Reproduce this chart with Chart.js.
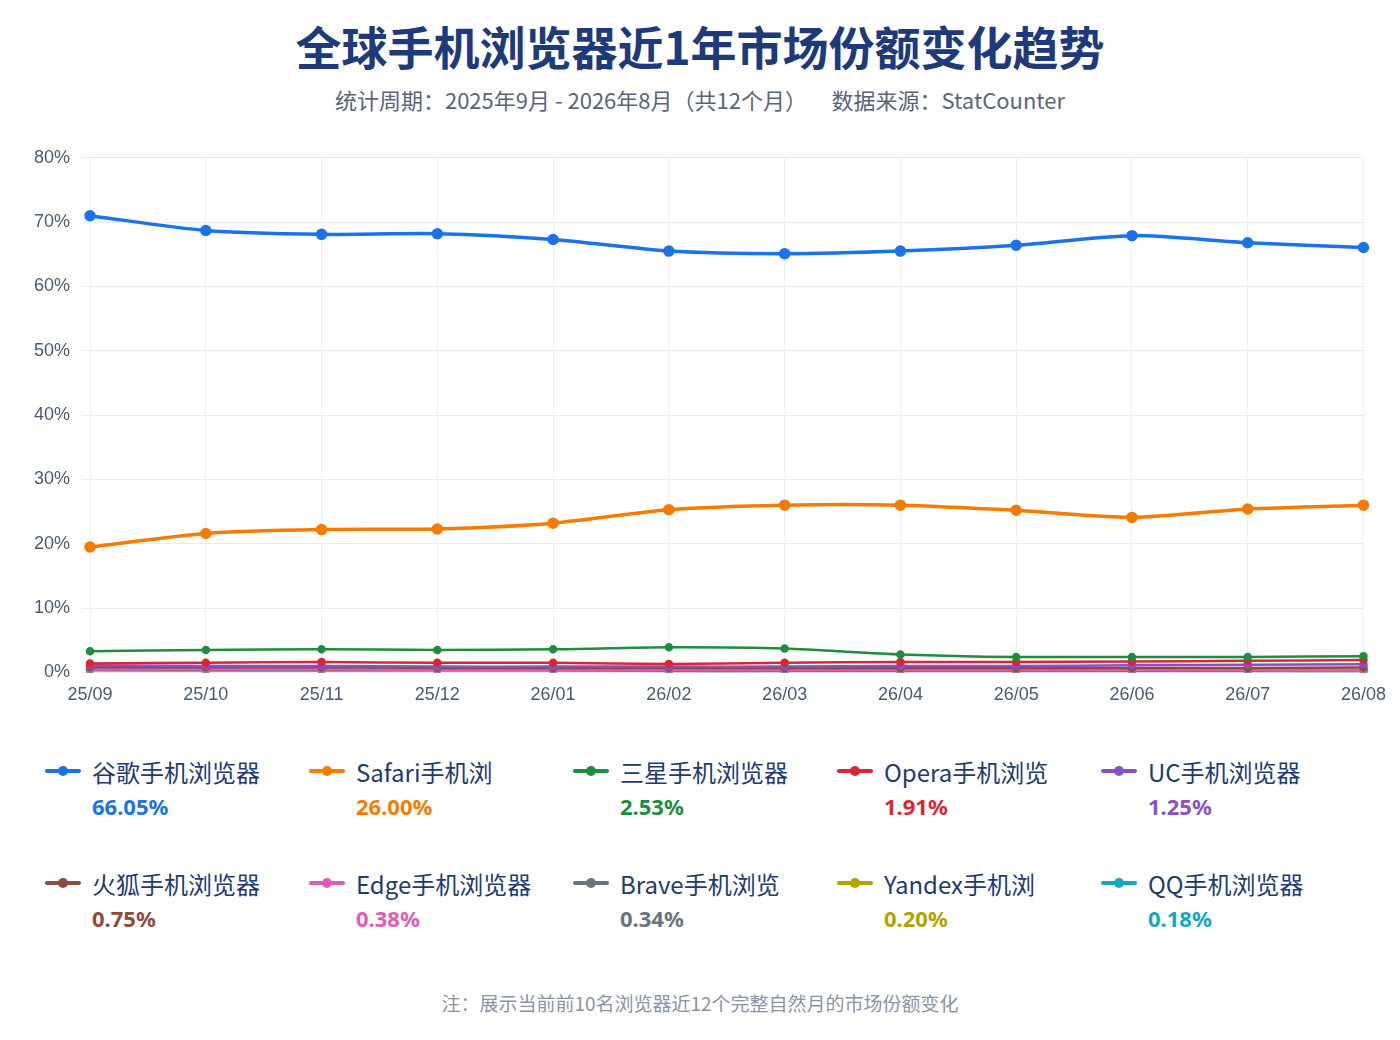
<!DOCTYPE html>
<html><head><meta charset="utf-8">
<script src="https://cdn.jsdelivr.net/npm/chart.js@4/dist/chart.umd.min.js"></script>
<style>
body{margin:0;width:1400px;height:1040px;background:#fff;font-family:"Noto Sans CJK SC","Noto Sans",sans-serif;position:relative;overflow:hidden}
#t{position:absolute;top:12px;left:0;width:1400px;text-align:center;font-size:46px;font-weight:bold;color:#1e3a7a}
#s{position:absolute;top:83px;left:0;width:1400px;text-align:center;font-size:22px;color:#5a6478}
#c{position:absolute;left:22px;top:135px;width:1368px;height:575px}
.lg{position:absolute;font-size:24px;color:#1e3a6e}
.lg i{position:absolute;left:0;top:15px;width:36px;height:4px;border-radius:2px}
.lg b{position:absolute;left:13px;top:12px;width:10px;height:10px;border-radius:5px}
.lg span{position:absolute;left:47px;top:0;white-space:nowrap}
.lg em{position:absolute;left:47px;top:37px;font-style:normal;font-weight:bold;font-size:22px;font-family:"Noto Sans",sans-serif}
#n{position:absolute;top:989px;left:0;width:1400px;text-align:center;font-size:19px;color:#8a94a6}
</style></head><body>
<div id="t">全球手机浏览器近1年市场份额变化趋势</div>
<div id="s">统计周期：2025年9月 - 2026年8月（共12个月）&nbsp;&nbsp;&nbsp;&nbsp;&nbsp;数据来源：StatCounter</div>
<div id="c"><canvas id="cv"></canvas></div>
<div id="lgd"></div>
<div id="n">注：展示当前前10名浏览器近12个完整自然月的市场份额变化</div>
<script>
const months=["25/09","25/10","25/11","25/12","26/01","26/02","26/03","26/04","26/05","26/06","26/07","26/08"];
const names=["谷歌手机浏览器","Safari手机浏","三星手机浏览器","Opera手机浏览","UC手机浏览器","火狐手机浏览器","Edge手机浏览器","Brave手机浏览","Yandex手机浏","QQ手机浏览器"];
const colors=["#1a73e8","#f57c00","#1e8e3e","#d92632","#8a4fc7","#8d4b3c","#e05bb5","#6b7280","#b3a300","#17a6bd"];
const chrome=[71.0,68.7,68.1,68.2,67.3,65.5,65.1,65.5,66.4,67.9,66.8,66.05];
const safari=[19.5,21.6,22.2,22.3,23.2,25.3,26.0,26.0,25.2,24.1,25.4,26.0];
const samsung=[3.3,3.5,3.6,3.5,3.6,3.9,3.7,2.8,2.4,2.4,2.4,2.53];
const opera=[1.4,1.5,1.6,1.5,1.5,1.3,1.5,1.6,1.6,1.7,1.8,1.91];
const uc=[1.1,1.0,1.0,0.9,0.9,0.9,0.9,1.0,1.0,1.1,1.2,1.25];
const firefox=[0.8,0.8,0.8,0.7,0.7,0.7,0.7,0.7,0.7,0.7,0.7,0.75];
const edge=[0.5,0.5,0.5,0.4,0.4,0.4,0.4,0.4,0.4,0.4,0.4,0.38];
const brave=[0.4,0.4,0.4,0.4,0.4,0.3,0.3,0.3,0.3,0.3,0.3,0.34];
const yandex=[0.3,0.3,0.3,0.3,0.3,0.2,0.2,0.2,0.2,0.2,0.2,0.20];
const qq=[0.4,0.3,0.3,0.3,0.3,0.2,0.2,0.2,0.2,0.2,0.2,0.18];
const series=[chrome,safari,samsung,opera,uc,firefox,edge,brave,yandex,qq];
const latest=["66.05%","26.00%","2.53%","1.91%","1.25%","0.75%","0.38%","0.34%","0.20%","0.18%"];
let h="";
names.forEach((n,i)=>{const x=45+264*(i%5),y=754+112*Math.floor(i/5);
h+=`<div class="lg" style="left:${x}px;top:${y}px"><i style="background:${colors[i]}"></i><b style="background:${colors[i]}"></b><span>${n}</span><em style="color:${colors[i]}">${latest[i]}</em></div>`;});
document.getElementById('lgd').innerHTML=h;
new Chart(document.getElementById('cv'),{type:'line',
data:{labels:months,datasets:series.map((d,i)=>({label:names[i],data:d,borderColor:colors[i],backgroundColor:colors[i],borderWidth:i<2?3.5:2.5,pointRadius:i<2?4:3,tension:0.25}))},
options:{responsive:true,maintainAspectRatio:false,animation:false,
plugins:{legend:{display:false},tooltip:{enabled:false}},
scales:{x:{grid:{color:"#eef1f5"},border:{display:false},ticks:{color:"#4a5a70",font:{size:18,family:"Liberation Sans"},maxRotation:0,padding:4}},
y:{min:0,max:80,grid:{color:"#e8ecf2"},border:{display:false},ticks:{stepSize:10,color:"#4a5a70",font:{size:18,family:"Liberation Sans"},callback:v=>v+"%",padding:12}}},
layout:{padding:{right:6,top:10}}}});
</script></body></html>
